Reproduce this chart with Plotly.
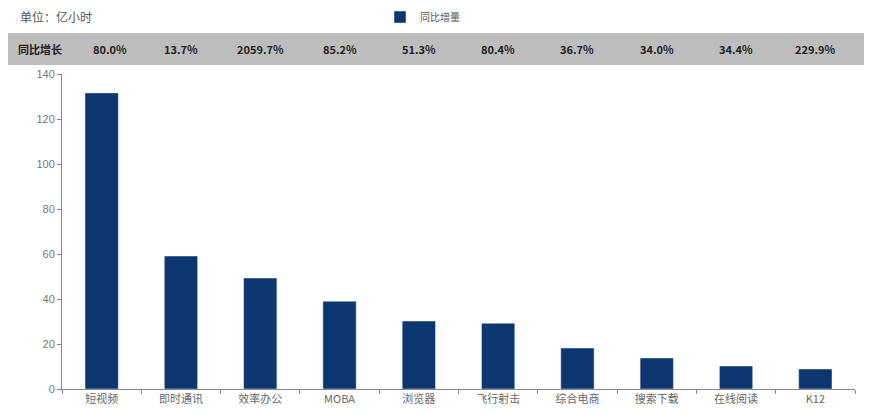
import plotly.graph_objects as go

categories = ["短视频", "即时通讯", "效率办公", "MOBA", "浏览器", "飞行射击", "综合电商", "搜索下载", "在线阅读", "K12"]
increment = [131.6, 59.1, 49.3, 39.0, 30.2, 29.2, 18.2, 13.8, 10.2, 8.9]
growth = ["80.0%", "13.7%", "2059.7%", "85.2%", "51.3%", "80.4%", "36.7%", "34.0%", "34.4%", "229.9%"]

FONT = "Noto Sans CJK SC, Liberation Sans, sans-serif"
BAR = "#0b3670"

fig = go.Figure()
fig.add_trace(go.Bar(x=categories, y=increment, name="同比增量", marker_color=BAR, width=0.42))

OFF = 8  # page offset of the figure (body margin)
W, H = 872, 414
# plot area in page pixels
PL, PR, PT, PB = 62, 855, 74, 389
L = PL - OFF
T = PT - OFF
R = W - (PR - OFF)
B = H - (PB - OFF)
pw = PR - PL
ph = PB - PT

def py(ypix):
    return (PB - ypix) / ph

def px(xpix):
    return (xpix - PL) / pw

fig.add_shape(type="rect", xref="paper", yref="paper", x0=px(8), x1=px(866), y0=py(65), y1=py(33),
              fillcolor="#bdbdbd", line_width=0, layer="below")

fig.add_annotation(xref="paper", yref="paper", x=px(16), y=py(49), text="<b>同比增长</b>", showarrow=False,
                   xanchor="left", yanchor="middle", font=dict(family=FONT, size=11, color="#222"))
for i, (c, g) in enumerate(zip(categories, growth)):
    fig.add_annotation(xref="x", yref="paper", x=c, y=py(49), text="<b>" + g + "</b>", showarrow=False,
                       xanchor="center", yanchor="middle", xshift=8 if i == 0 else 0,
                       font=dict(family=FONT, size=11, color="#222"))

fig.add_annotation(xref="paper", yref="paper", x=px(18), y=py(17), text="单位：亿小时", showarrow=False,
                   xanchor="left", yanchor="middle", font=dict(family=FONT, size=12, color="#555"))

fig.update_layout(
    width=W, height=H,
    margin=dict(l=L, r=R, t=T, b=B, autoexpand=False),
    paper_bgcolor="white", plot_bgcolor="white",
    font=dict(family=FONT, size=11, color="#666"),
    showlegend=True,
    legend=dict(orientation="h", x=px(380), y=py(17), xanchor="left", yanchor="middle",
                font=dict(family=FONT, size=10, color="#555"), bgcolor="rgba(0,0,0,0)",
                itemwidth=30),
    bargap=0.58,
    xaxis=dict(type="category", showline=True, linecolor="#888", linewidth=1, ticks="outside",
               tickson="boundaries", ticklen=4, tickcolor="#888", showgrid=False,
               tickfont=dict(family=FONT, size=11, color="#666"), range=[-0.5, 9.5]),
    yaxis=dict(range=[0, 140], dtick=20, showline=True, linecolor="#888", linewidth=1, ticks="outside",
               ticklen=4, tickcolor="#888", showgrid=False, zeroline=False,
               tickfont=dict(family="Liberation Sans, Arial, sans-serif", size=11, color="#777")),
)

fig.write_html("out.html")
